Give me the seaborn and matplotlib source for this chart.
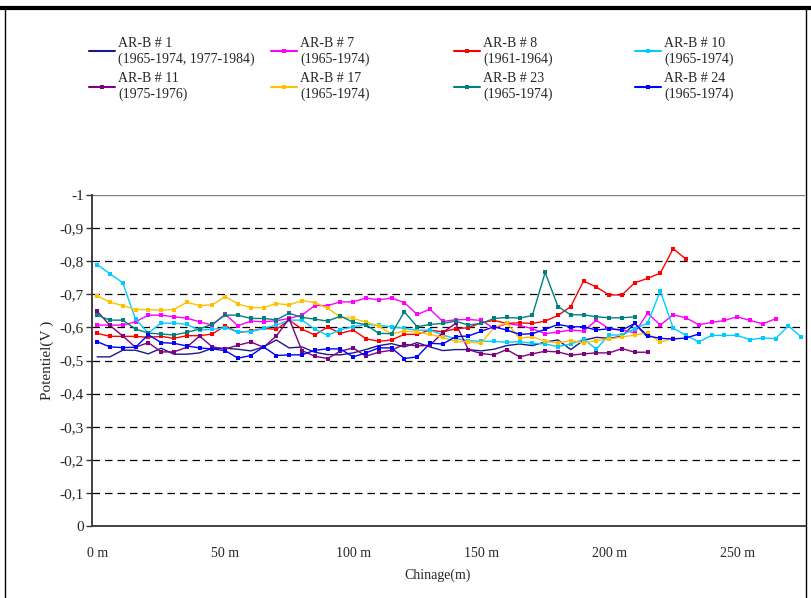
import matplotlib
matplotlib.use("Agg")
import matplotlib.pyplot as plt
import seaborn as sns
import pandas as pd
from matplotlib.lines import Line2D

# chainage stations (m), every 5 m
chainage = list(range(0, 280, 5))

# potentials (V)
arb1 = [-0.511, -0.511, -0.531, -0.531, -0.520, -0.537, -0.519, -0.519, -0.523, -0.537,
        -0.537, -0.534, -0.529, -0.541, -0.562, -0.538, -0.541, -0.525, -0.518, -0.517,
        -0.523, -0.533, -0.545, -0.551, -0.541, -0.554, -0.541, -0.530, -0.533, -0.533,
        -0.529, -0.534, -0.545, -0.550, -0.545, -0.556, -0.562, -0.533, -0.561, -0.570,
        -0.567, -0.573, -0.612, -0.570]
arb7 = [-0.607, -0.607, -0.607, -0.617, -0.637, -0.637, -0.632, -0.628, -0.617, -0.607,
        -0.640, -0.605, -0.619, -0.617, -0.620, -0.627, -0.637, -0.666, -0.666, -0.677,
        -0.677, -0.689, -0.683, -0.689, -0.675, -0.639, -0.655, -0.618, -0.623, -0.624,
        -0.621, -0.597, -0.612, -0.606, -0.596, -0.581, -0.586, -0.592, -0.589, -0.621,
        -0.596, -0.592, -0.584, -0.643, -0.607, -0.638, -0.629, -0.608, -0.615, -0.621,
        -0.632, -0.621, -0.611, -0.626]
arb8 = [-0.582, -0.573, -0.573, -0.573, -0.570, -0.573, -0.567, -0.575, -0.575, -0.580,
        -0.605, -0.585, -0.589, -0.597, -0.594, -0.622, -0.595, -0.577, -0.601, -0.582,
        -0.592, -0.566, -0.558, -0.562, -0.579, -0.579, -0.592, -0.586, -0.596, -0.599,
        -0.614, -0.621, -0.612, -0.614, -0.612, -0.619, -0.636, -0.663, -0.740, -0.722,
        -0.698, -0.698, -0.735, -0.748, -0.764, -0.838, -0.806]
arb10 = [-0.790, -0.762, -0.735, -0.625, -0.583, -0.613, -0.613, -0.609, -0.592, -0.594,
         -0.599, -0.587, -0.587, -0.597, -0.607, -0.622, -0.622, -0.595, -0.576, -0.593,
         -0.602, -0.609, -0.606, -0.602, -0.597, -0.591, -0.592, -0.577, -0.566, -0.560,
         -0.558, -0.558, -0.555, -0.557, -0.552, -0.550, -0.542, -0.550, -0.564, -0.535,
         -0.577, -0.577, -0.596, -0.613, -0.710, -0.598, -0.576, -0.556, -0.576, -0.576,
         -0.576, -0.563, -0.568, -0.566, -0.605, -0.571]
arb11 = [-0.649, -0.606, -0.574, -0.540, -0.554, -0.526, -0.526, -0.540, -0.574, -0.541,
         -0.535, -0.546, -0.556, -0.540, -0.574, -0.626, -0.530, -0.513, -0.506, -0.528,
         -0.538, -0.513, -0.525, -0.531, -0.549, -0.544, -0.546, -0.584, -0.612, -0.533,
         -0.521, -0.517, -0.533, -0.511, -0.520, -0.528, -0.526, -0.516, -0.520, -0.523,
         -0.523, -0.536, -0.525, -0.525]
arb17 = [-0.696, -0.676, -0.666, -0.654, -0.654, -0.652, -0.654, -0.676, -0.666, -0.668,
         -0.693, -0.671, -0.660, -0.660, -0.672, -0.668, -0.681, -0.675, -0.658, -0.632,
         -0.627, -0.616, -0.604, -0.580, -0.589, -0.586, -0.579, -0.570, -0.558, -0.556,
         -0.552, -0.600, -0.614, -0.567, -0.572, -0.558, -0.553, -0.560, -0.553, -0.560,
         -0.565, -0.571, -0.577, -0.583, -0.555, -0.568]
arb23 = [-0.637, -0.622, -0.622, -0.595, -0.583, -0.580, -0.577, -0.585, -0.595, -0.610,
         -0.637, -0.637, -0.627, -0.627, -0.623, -0.643, -0.630, -0.625, -0.619, -0.634,
         -0.616, -0.608, -0.582, -0.581, -0.647, -0.602, -0.609, -0.612, -0.619, -0.607,
         -0.612, -0.627, -0.630, -0.628, -0.636, -0.766, -0.663, -0.638, -0.638, -0.632,
         -0.629, -0.629, -0.632]
arb24 = [-0.557, -0.541, -0.539, -0.540, -0.578, -0.554, -0.552, -0.544, -0.538, -0.535,
         -0.530, -0.507, -0.515, -0.541, -0.515, -0.517, -0.517, -0.531, -0.535, -0.535,
         -0.511, -0.523, -0.538, -0.538, -0.506, -0.511, -0.552, -0.550, -0.572, -0.574,
         -0.588, -0.602, -0.592, -0.579, -0.581, -0.594, -0.609, -0.602, -0.602, -0.592,
         -0.596, -0.592, -0.612, -0.574, -0.567, -0.565, -0.568, -0.580]

labels = ["AR-B # 1\n(1965-1974, 1977-1984)", "AR-B # 7\n(1965-1974)",
          "AR-B # 8\n(1961-1964)", "AR-B # 10\n(1965-1974)",
          "AR-B # 11\n(1975-1976)", "AR-B # 17\n(1965-1974)",
          "AR-B # 23\n(1965-1974)", "AR-B # 24\n(1965-1974)"]
values = [arb1, arb7, arb8, arb10, arb11, arb17, arb23, arb24]
colors = ["#1a1a8c", "#ff00ff", "#ff0000", "#00ccff",
          "#800080", "#ffc000", "#008080", "#0000ff"]
markers = [None, "s", "s", "s", "s", "s", "s", "s"]

sns.set_style("white")
plt.rcParams["font.family"] = ["Liberation Serif", "DejaVu Serif"]

fig = plt.figure(figsize=(8.12, 5.98), dpi=100)
ax = fig.add_axes([92 / 812, 1 - 526 / 598, 713 / 812, 331 / 598])

handles = []
for vals, col, mk in zip(values, colors, markers):
    df = pd.DataFrame({"x": chainage[:len(vals)], "y": vals})
    sns.lineplot(data=df, x="x", y="y", color=col, marker=mk, markersize=3.5,
                 markeredgewidth=0, linewidth=1.0, ax=ax, legend=False)
    handles.append(Line2D([], [], color=col, marker=mk, markersize=3.5,
                          markeredgewidth=0, linewidth=1.5))

ax.set_xlim(-2, 276.5)
ax.set_ylim(0, -1)
yt = [0, -0.1, -0.2, -0.3, -0.4, -0.5, -0.6, -0.7, -0.8, -0.9, -1]
ax.set_yticks(yt)
ax.set_yticklabels([("%g" % v).replace(".", ",") for v in yt], fontsize=11)
xt = [0, 50, 100, 150, 200, 250]
ax.set_xticks(xt)
ax.set_xticklabels(["%d m" % v for v in xt], fontsize=10)
ax.tick_params(axis="y", length=4, width=1, color="#333333", pad=2, direction="out", left=True)
ax.tick_params(axis="x", length=0, pad=15)

# dashed gridlines
for v in yt[1:-1]:
    ax.axhline(v, color="black", linestyle=(0, (6, 4)), linewidth=0.9, zorder=0)
ax.axhline(-1, color="#808080", linewidth=1.0, zorder=0)

for s in ["top", "right"]:
    ax.spines[s].set_visible(False)
ax.spines["left"].set_color("#333333")
ax.spines["left"].set_linewidth(1.3)
ax.spines["bottom"].set_color("#333333")
ax.spines["bottom"].set_linewidth(1.3)

ax.set_xlabel("Chinage(m)", fontsize=10, labelpad=6)
ax.xaxis.label.set_x(0.484)
ax.set_ylabel("Potentiel(V )", fontsize=11, labelpad=4)

# legend: four columns, two entries each
col_x = [89, 271, 454, 635]
for i in range(4):
    fig.legend([handles[i], handles[i + 4]], [labels[i], labels[i + 4]],
               loc="upper left", bbox_to_anchor=(col_x[i] / 812, 1 - 37 / 598),
               frameon=False, fontsize=10, handlelength=1.9, handletextpad=0.2,
               labelspacing=0.5, borderpad=0, borderaxespad=0)

# chart border
fig.add_artist(Line2D([0, 1], [1 - 8 / 598, 1 - 8 / 598], color="black", linewidth=3,
                      transform=fig.transFigure))
fig.add_artist(Line2D([5 / 812, 5 / 812], [0, 1 - 8 / 598], color="black", linewidth=1,
                      transform=fig.transFigure))
fig.add_artist(Line2D([806 / 812, 806 / 812], [0, 1 - 8 / 598], color="black", linewidth=1,
                      transform=fig.transFigure))

fig.savefig("out.png", dpi=100)
